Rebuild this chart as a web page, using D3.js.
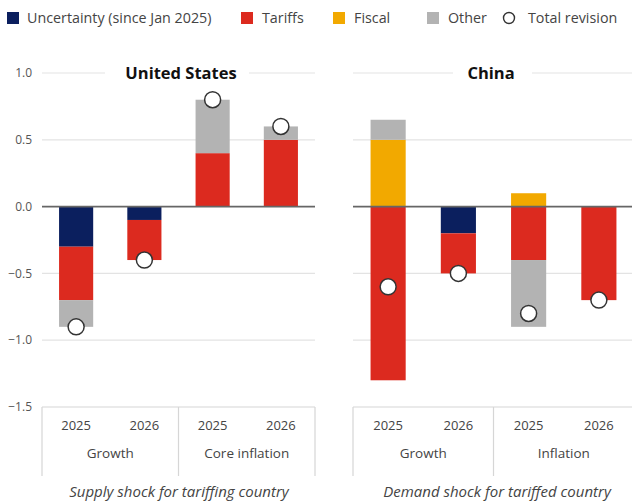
<!DOCTYPE html>
<html>
<head>
<meta charset="utf-8">
<script src="https://cdn.jsdelivr.net/npm/d3@7"></script>
<style>
  html, body { margin: 0; padding: 0; background: #fff; }
  svg { display: block; font-family: "Open Sans", "DejaVu Sans", sans-serif; }
</style>
</head>
<body>
<svg id="chart" width="632" height="501"></svg>
<script>
// ---- Data ----
const seriesKeys = ["Uncertainty", "Tariffs", "Fiscal", "Other"];
const legendLabels = ["Uncertainty (since Jan 2025)", "Tariffs", "Fiscal", "Other", "Total revision"];
const seriesColors = ["#0b1f5e", "#dc2a1f", "#f2a900", "#b3b3b3"];
const yTicks = [1.0, 0.5, 0.0, -0.5, -1.0, -1.5];
const years = ["2025", "2026", "2025", "2026"];

const usTitle = "United States";
const usGroups = ["Growth", "Core inflation"];
const usUncertainty = [-0.3, -0.1, 0, 0];
const usTariffs = [-0.4, -0.3, 0.4, 0.5];
const usFiscal = [0, 0, 0, 0];
const usOther = [-0.2, 0, 0.4, 0.1];
const usTotal = [-0.9, -0.4, 0.8, 0.6];
const usNote = "Supply shock for tariffing country";

const cnTitle = "China";
const cnGroups = ["Growth", "Inflation"];
const cnUncertainty = [0, -0.2, 0, 0];
const cnTariffs = [-1.3, -0.3, -0.4, -0.7];
const cnFiscal = [0.5, 0, 0.1, 0];
const cnOther = [0.15, 0, -0.5, 0];
const cnTotal = [-0.6, -0.5, -0.8, -0.7];
const cnNote = "Demand shock for tariffed country";

// ---- Layout ----
const svg = d3.select("#chart");
const y = d3.scaleLinear().domain([-1.5, 1.0]).range([407, 73]);
const color = d3.scaleOrdinal().domain(seriesKeys).range(seriesColors);

// Legend
const legend = svg.append("g").attr("transform", "translate(0,18)");
const legendX = [7, 241, 333, 427, 502];
legendLabels.forEach((lab, i) => {
  const g = legend.append("g").attr("transform", `translate(${legendX[i]},0)`);
  if (i < 4) {
    g.append("rect").attr("x", 0).attr("y", -6).attr("width", 12).attr("height", 12)
      .attr("fill", seriesColors[i]);
  } else {
    g.append("circle").attr("cx", 7).attr("cy", 0).attr("r", 5.5)
      .attr("fill", "#fff").attr("stroke", "#333").attr("stroke-width", 1.4);
  }
  g.append("text").attr("x", i === 0 ? 20 : (i === 4 ? 26 : 21)).attr("y", 0).attr("dy", "0.35em")
    .attr("font-size", 14.3).attr("fill", "#444").text(lab);
});

// Y axis labels
svg.append("g").selectAll("text").data(yTicks).join("text")
  .attr("x", 32).attr("y", d => y(d)).attr("dy", "0.35em")
  .attr("text-anchor", "end").attr("font-size", 12).attr("fill", "#555")
  .text(d => d3.format(".1f")(d));

function drawPanel(opt) {
  const g = svg.append("g");
  const [x0, x1] = opt.range;
  const x = d3.scaleBand().domain(d3.range(4)).range([x0, x1]).paddingInner(0.5).paddingOuter(0.25);

  // gridlines
  yTicks.filter(t => t !== 0 && t !== -1.5).forEach(t => {
    const segs = t === 1.0 ? [[x0, opt.gap[0]], [opt.gap[1], x1]] : [[x0, x1]];
    segs.forEach(s => {
      g.append("line").attr("x1", s[0]).attr("x2", s[1]).attr("y1", y(t)).attr("y2", y(t))
        .attr("stroke", "#e3e3e3").attr("stroke-width", 1.2);
    });
  });

  // title
  g.append("text").attr("x", opt.titleX).attr("y", y(1.0)).attr("dy", "0.35em")
    .attr("text-anchor", "middle").attr("font-size", 16.5).attr("font-weight", 700)
    .attr("fill", "#111").text(opt.title);

  // stacked data
  const rows = d3.range(4).map(i => ({
    i,
    Uncertainty: opt.values[0][i],
    Tariffs: opt.values[1][i],
    Fiscal: opt.values[2][i],
    Other: opt.values[3][i]
  }));
  const stacked = d3.stack().keys(seriesKeys).offset(d3.stackOffsetDiverging)(rows);

  g.append("g").selectAll("g").data(stacked).join("g")
    .attr("fill", d => color(d.key))
    .selectAll("rect").data(d => d.filter(s => s[1] !== s[0])).join("rect")
    .attr("x", d => x(d.data.i))
    .attr("width", x.bandwidth())
    .attr("y", d => y(Math.max(d[0], d[1])))
    .attr("height", d => Math.abs(y(d[0]) - y(d[1])));

  // zero line
  g.append("line").attr("x1", x0).attr("x2", x1).attr("y1", y(0)).attr("y2", y(0))
    .attr("stroke", "#666").attr("stroke-width", 1.6);

  // totals
  g.append("g").selectAll("circle").data(opt.total).join("circle")
    .attr("cx", (d, i) => x(i) + x.bandwidth() / 2)
    .attr("cy", d => y(d))
    .attr("r", 8)
    .attr("fill", "#fff").attr("stroke", "#333").attr("stroke-width", 1.5);

  // category box
  const boxTop = y(-1.5), boxBottom = 476;
  const ax = g.append("g").attr("stroke", "#d6d6d6").attr("stroke-width", 1.2);
  ax.append("line").attr("x1", x0).attr("x2", x1).attr("y1", boxTop).attr("y2", boxTop);
  const divs = [x0, (x(1) + x(2) + x.bandwidth()) / 2, x1];
  divs.forEach(d => {
    ax.append("line").attr("x1", d).attr("x2", d).attr("y1", boxTop).attr("y2", boxBottom);
  });

  // year labels
  g.append("g").selectAll("text").data(years).join("text")
    .attr("x", (d, i) => x(i) + x.bandwidth() / 2).attr("y", 425).attr("dy", "0.35em")
    .attr("text-anchor", "middle").attr("font-size", 13).attr("fill", "#444").text(d => d);

  // group labels
  g.append("g").selectAll("text").data(opt.groups).join("text")
    .attr("x", (d, i) => (x(2 * i) + x(2 * i + 1) + x.bandwidth()) / 2).attr("y", 453).attr("dy", "0.35em")
    .attr("text-anchor", "middle").attr("font-size", 13.5).attr("fill", "#444").text(d => d);

  // note
  g.append("text").attr("x", opt.noteX).attr("y", 492).attr("dy", "0.35em")
    .attr("text-anchor", "middle").attr("font-size", 15).attr("font-style", "italic")
    .attr("fill", "#444").text(opt.note);
}

drawPanel({
  range: [42, 315], gap: [105, 249], titleX: 181, title: usTitle,
  values: [usUncertainty, usTariffs, usFiscal, usOther], total: usTotal,
  groups: usGroups, note: usNote, noteX: 179
});
drawPanel({
  range: [353, 634], gap: [453, 532], titleX: 491, title: cnTitle,
  values: [cnUncertainty, cnTariffs, cnFiscal, cnOther], total: cnTotal,
  groups: cnGroups, note: cnNote, noteX: 497
});
</script>
</body>
</html>
